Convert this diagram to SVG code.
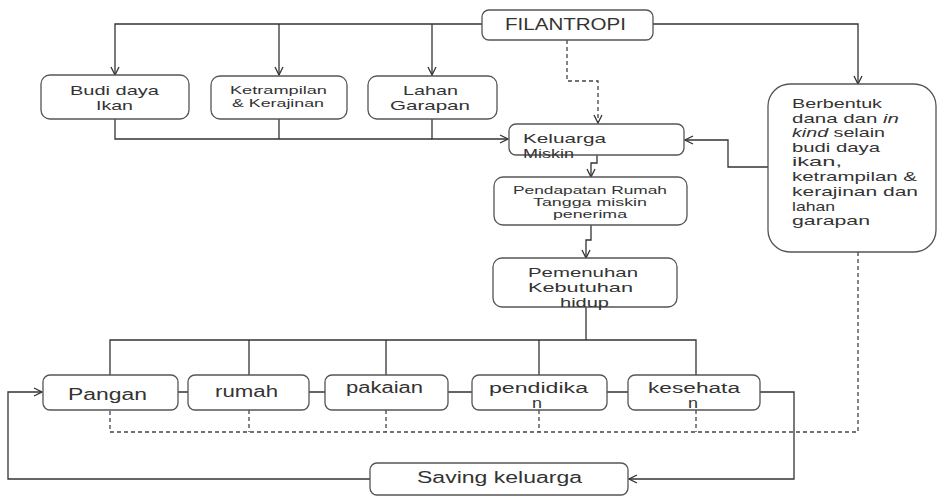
<svg xmlns="http://www.w3.org/2000/svg" width="946" height="497" viewBox="0 0 946 497">
<defs>
<marker id="ah" viewBox="0 0 10 10" refX="9" refY="5" markerWidth="10" markerHeight="10" markerUnits="userSpaceOnUse" orient="auto">
<path d="M1,1 L9,5 L1,9" fill="none" stroke="#333" stroke-width="1.3"/>
</marker>
<style>
.box{fill:#fff;stroke:#555;stroke-width:1.3}
.t{font-family:"Liberation Sans",Arial,sans-serif;fill:#333}
.ln{fill:none;stroke:#333;stroke-width:1.3}
.ds{fill:none;stroke:#444;stroke-width:1.3;stroke-dasharray:4,3}
</style>
</defs>
<rect width="946" height="497" fill="#fff"/>
<g id="connectors">
<path class="ln" d="M482,24 H115 V75" marker-end="url(#ah)"/>
<path class="ln" d="M279,24 V75" marker-end="url(#ah)"/>
<path class="ln" d="M432,24 V75" marker-end="url(#ah)"/>
<path class="ln" d="M653,24 H858 V84" marker-end="url(#ah)"/>
<path class="ds" d="M567,40 V81 H598 V123" marker-end="url(#ah)"/>
<path class="ln" d="M115,119 V139 H432 M279,119 V139"/>
<path class="ln" d="M432,119 V139 H508" stroke-width="1.8" marker-end="url(#ah)"/>
<path class="ln" d="M768,167 H728 V140 H685" marker-end="url(#ah)"/>
<path class="ln" d="M597,155 V163 H591 V177" marker-end="url(#ah)"/>
<path class="ln" d="M591,225 V240 H586 V258" marker-end="url(#ah)"/>
<path class="ln" d="M586,307 V340 M110,375 V340 H696 V375 M249,340 V375 M386,340 V375 M539,340 V375"/>
<path class="ln" d="M178,392 H188 M309,392 H325 M448,392 H472 M607,392 H628"/>
<path class="ln" d="M760,392 H794 V479 H629" marker-end="url(#ah)"/>
<path class="ln" d="M370,479 H8 V392 H42" marker-end="url(#ah)"/>
<path class="ds" d="M858,252 V432 H110 V410 M249,410 V432 M386,410 V432 M539,410 V432 M696,410 V432"/>
</g>
<g id="filantropi"><rect class="box" x="482" y="10" width="171" height="30" rx="7"/><text class="t" x="505" y="30" font-size="16" textLength="121" lengthAdjust="spacingAndGlyphs">FILANTROPI</text></g>
<g id="budidaya"><rect class="box" x="41" y="75" width="148" height="44" rx="9"/><text class="t" x="70" y="95" font-size="13.5" textLength="89" lengthAdjust="spacingAndGlyphs">Budi daya</text><text class="t" x="96" y="110" font-size="13.5" textLength="37" lengthAdjust="spacingAndGlyphs">Ikan</text></g>
<g id="ketrampilan"><rect class="box" x="211" y="76" width="136" height="43" rx="9"/><text class="t" x="230" y="94" font-size="11.5" textLength="97" lengthAdjust="spacingAndGlyphs">Ketrampilan</text><text class="t" x="232" y="107" font-size="11.5" textLength="92" lengthAdjust="spacingAndGlyphs">&amp; Kerajinan</text></g>
<g id="lahan"><rect class="box" x="368" y="76" width="129" height="43" rx="9"/><text class="t" x="403" y="95" font-size="13.5" textLength="55" lengthAdjust="spacingAndGlyphs">Lahan</text><text class="t" x="390" y="110" font-size="13.5" textLength="80" lengthAdjust="spacingAndGlyphs">Garapan</text></g>
<g id="keluarga"><rect class="box" x="509" y="124" width="175" height="31" rx="7"/><text class="t" x="523" y="143" font-size="13.5" textLength="83" lengthAdjust="spacingAndGlyphs">Keluarga</text><text class="t" x="523" y="158" font-size="13.5" textLength="51" lengthAdjust="spacingAndGlyphs">Miskin</text></g>
<g id="berbentuk"><rect class="box" x="768" y="84" width="168" height="168" rx="22"/>
<text class="t" x="792" y="108" font-size="13" textLength="90" lengthAdjust="spacingAndGlyphs">Berbentuk</text>
<text class="t" x="792" y="122.5" font-size="13" textLength="107" lengthAdjust="spacingAndGlyphs">dana dan <tspan font-style="italic">in</tspan></text>
<text class="t" x="792" y="137" font-size="13" textLength="93" lengthAdjust="spacingAndGlyphs"><tspan font-style="italic">kind</tspan> selain</text>
<text class="t" x="792" y="151.5" font-size="13" textLength="88" lengthAdjust="spacingAndGlyphs">budi daya</text>
<text class="t" x="792" y="166" font-size="13" textLength="50" lengthAdjust="spacingAndGlyphs">ikan,</text>
<text class="t" x="792" y="181" font-size="13" textLength="125" lengthAdjust="spacingAndGlyphs">ketrampilan &amp;</text>
<text class="t" x="792" y="196" font-size="13" textLength="126" lengthAdjust="spacingAndGlyphs">kerajinan dan</text>
<text class="t" x="792" y="210.5" font-size="13" textLength="43" lengthAdjust="spacingAndGlyphs">lahan</text>
<text class="t" x="792" y="225" font-size="13" textLength="78" lengthAdjust="spacingAndGlyphs">garapan</text>
</g>
<g id="pendapatan"><rect class="box" x="494" y="177" width="193" height="48" rx="9"/><text class="t" x="513" y="194" font-size="11" textLength="154" lengthAdjust="spacingAndGlyphs">Pendapatan Rumah</text><text class="t" x="533" y="206" font-size="11" textLength="114" lengthAdjust="spacingAndGlyphs">Tangga miskin</text><text class="t" x="553" y="218" font-size="11" textLength="74" lengthAdjust="spacingAndGlyphs">penerima</text></g>
<g id="pemenuhan"><rect class="box" x="493" y="258" width="184" height="49" rx="9"/><text class="t" x="528" y="277" font-size="13.5" textLength="110" lengthAdjust="spacingAndGlyphs">Pemenuhan</text><text class="t" x="528" y="292" font-size="13.5" textLength="105" lengthAdjust="spacingAndGlyphs">Kebutuhan</text><text class="t" x="560" y="307" font-size="13.5" textLength="49" lengthAdjust="spacingAndGlyphs">hidup</text></g>
<g id="pangan"><rect class="box" x="43" y="375" width="135" height="35" rx="7"/><text class="t" x="68" y="400" font-size="16" textLength="79" lengthAdjust="spacingAndGlyphs">Pangan</text></g>
<g id="rumah"><rect class="box" x="188" y="375" width="121" height="35" rx="7"/><text class="t" x="215" y="397" font-size="16" textLength="63" lengthAdjust="spacingAndGlyphs">rumah</text></g>
<g id="pakaian"><rect class="box" x="325" y="375" width="123" height="35" rx="7"/><text class="t" x="346" y="393" font-size="16" textLength="77" lengthAdjust="spacingAndGlyphs">pakaian</text></g>
<g id="pendidikan"><rect class="box" x="472" y="375" width="135" height="35" rx="7"/><text class="t" x="489" y="393" font-size="14" textLength="99" lengthAdjust="spacingAndGlyphs">pendidika</text><text class="t" x="532" y="408" font-size="14" textLength="10" lengthAdjust="spacingAndGlyphs">n</text></g>
<g id="kesehatan"><rect class="box" x="628" y="375" width="132" height="35" rx="7"/><text class="t" x="648" y="393" font-size="14" textLength="92" lengthAdjust="spacingAndGlyphs">kesehata</text><text class="t" x="688" y="408" font-size="14" textLength="10" lengthAdjust="spacingAndGlyphs">n</text></g>
<g id="saving"><rect class="box" x="370" y="463" width="258" height="32" rx="7"/><text class="t" x="417" y="483" font-size="16" textLength="165" lengthAdjust="spacingAndGlyphs">Saving keluarga</text></g>
</svg>
